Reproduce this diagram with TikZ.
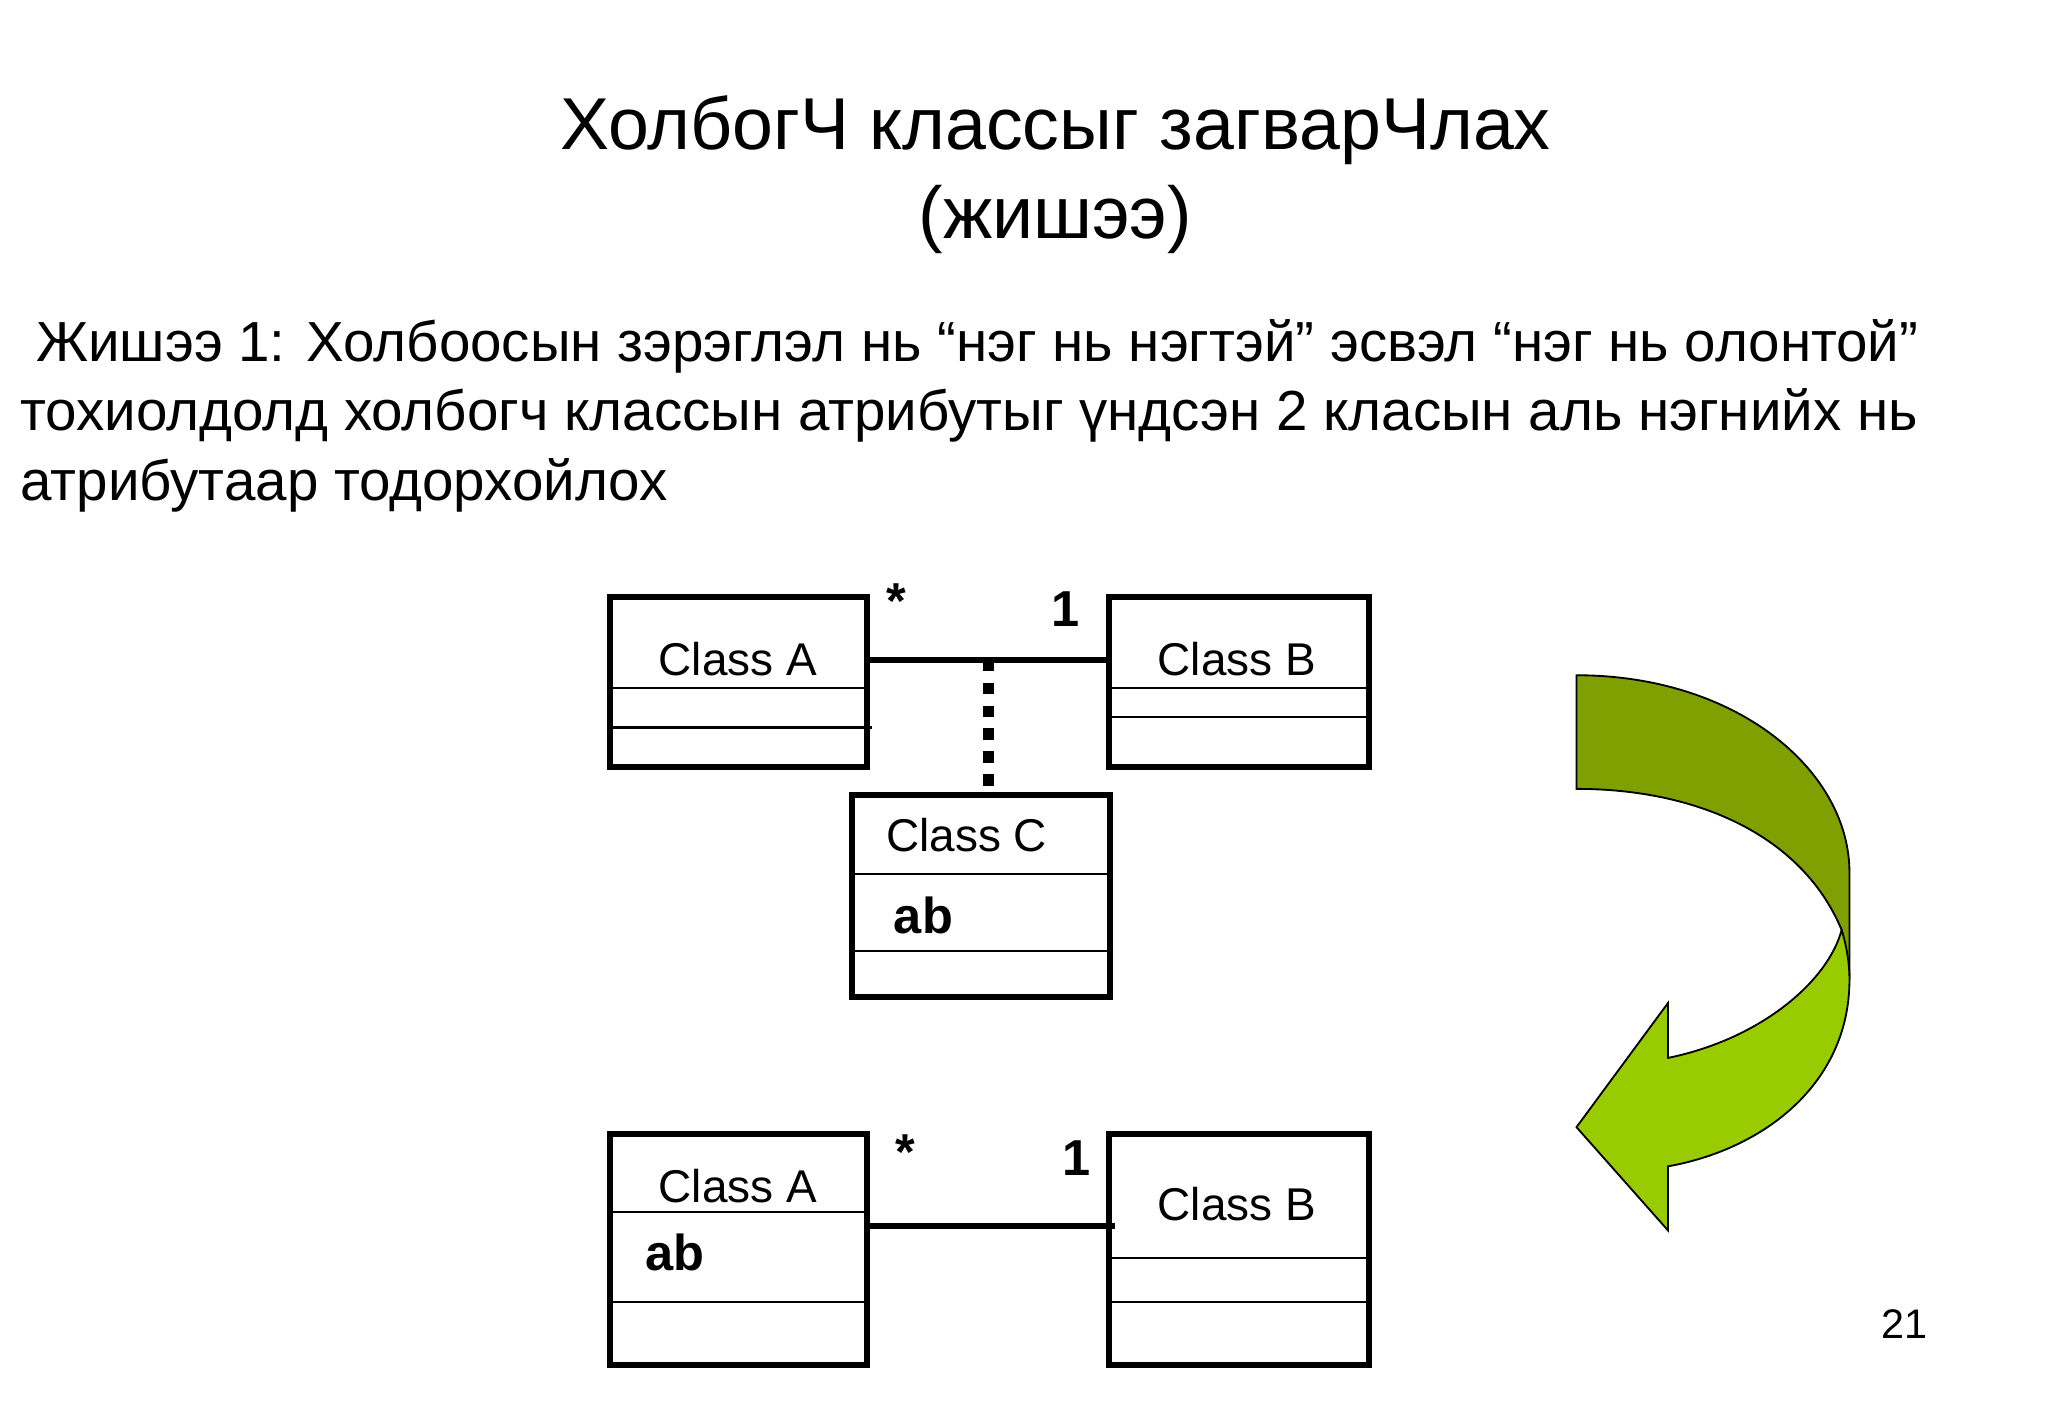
\documentclass[tikz,border=0pt]{standalone}
\usepackage{fontspec}
\setmainfont{Liberation Sans}
\usetikzlibrary{
  fit, % to fit the class boxes around their corners
  positioning,
}
\definecolor{olivedark}{HTML}{7FA000}
\definecolor{olivelight}{HTML}{99CC00}
\tikzset{
  cls/.style={ % style for each class box
    rectangle,draw,line width=1.3pt, % drawn as a thick rectangle
    inner sep=0pt, % box exactly on its corners
  },
  part/.style={ % compartment lines inside a class
    line width=0.5pt,
  },
  assoc/.style={ % association between classes
    line width=1.3pt,
  },
  clsname/.style={ % class names
    font=\fontsize{10pt}{12pt}\selectfont,
  },
  attr/.style={ % attributes
    font=\fontsize{11pt}{13pt}\selectfont\bfseries, anchor=west,
  },
  mult/.style={ % multiplicities
    font=\fontsize{11pt}{13pt}\selectfont\bfseries,
  },
  body/.style={ % slide text
    anchor=west, inner sep=0pt, font=\fontsize{12.3pt}{14pt}\selectfont,
  },
}

\begin{document}
\begin{tikzpicture}[x=0.01cm, y=-0.01cm]
	\useasboundingbox (0,0) rectangle (1568,1086);
	
	% title and text
	\node[font=\fontsize{16pt}{19pt}\selectfont] (title) at (808,100) {ХолбогЧ классыг загварЧлах};
	\node[font=\fontsize{16pt}{19pt}\selectfont] (sub) at (808,168) {(жишээ)};
	\node[body] (l1) at (27,265) {Жишээ 1: Холбоосын зэрэглэл нь “нэг нь нэгтэй” эсвэл “нэг нь олонтой”};
	\node[body] (l2) at (15,318) {тохиолдолд холбогч классын атрибутыг үндсэн 2 класын аль нэгнийх нь};
	\node[body] (l3) at (15,372) {атрибутаар тодорхойлох};
	
	% upper diagram
	\node[cls, fit={(467,457)(664,587)}] (a1) {};
	\node[cls, fit={(849,457)(1048,587)}] (b1) {};
	\node[cls, fit={(652,609)(850,763)}] (c1) {};
	\draw[part] (467,527) -- (664,527) (467,557) -- (668,557);
	\draw[part] (849,527) -- (1048,527) (849,549) -- (1048,549);
	\draw[part] (652,669) -- (850,669) (652,728) -- (850,728);
	\node[clsname] at (565,505) {Class A};
	\node[clsname] at (947,505) {Class B};
	\node[clsname] at (740,639) {Class C};
	\node[attr] at (672,701) {ab};
	\coordinate (m1) at (757,505);
	\draw[assoc] (a1.east |- m1) -- (b1.west |- m1);
	\draw[line width=2.5pt, dash pattern=on 2.5pt off 2.5pt] (m1) -- (c1.north -| m1);
	\node[mult] at (686,460) {*};
	\node[mult] at (816,466) {1};
	
	% lower diagram
	\node[cls, fit={(467,868)(664,1045)}] (a2) {};
	\node[cls, fit={(849,868)(1048,1045)}] (b2) {};
	\draw[part] (467,928) -- (664,928) (467,997) -- (664,997);
	\draw[part] (849,963) -- (1048,963) (849,997) -- (1048,997);
	\node[clsname] at (565,908) {Class A};
	\node[clsname] at (947,922) {Class B};
	\node[attr] at (482,959) {ab};
	\coordinate (m2) at (757,939);
	\draw[assoc] (a2.east |- m2) -- (854,939);
	\node[mult] at (693,882) {*};
	\node[mult] at (824,887) {1};
	
	% curved arrow
	\draw[fill=olivedark, line width=0.4pt] (1207,517) .. controls (1330,517) and (1416,590) .. (1416,668)
		-- (1416,750) -- (1410,712) .. controls (1380,640) and (1300,604) .. (1207,604) -- cycle;
	\draw[fill=olivelight, line width=0.4pt] (1410,712) .. controls (1414,725) and (1416,738) .. (1416,750)
		.. controls (1416,830) and (1350,880) .. (1277,893) -- (1277,942) -- (1207,863) -- (1277,768)
		-- (1277,810) .. controls (1350,795) and (1400,750) .. (1410,712) -- cycle;
	
	\node[font=\fontsize{9pt}{11pt}\selectfont] (page) at (1458,1014) {21};
\end{tikzpicture}
\end{document}
